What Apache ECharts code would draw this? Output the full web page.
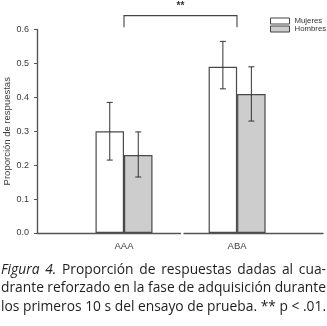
<!DOCTYPE html>
<html>
<head>
<meta charset="utf-8">
<script src="https://cdn.jsdelivr.net/npm/echarts@6/dist/echarts.min.js"></script>
<style>
  html, body { margin: 0; padding: 0; background: #fff; }
  #chart { width: 327px; height: 326px; }
</style>
</head>
<body>
<div id="chart"></div>
<script>
// data
const categories = ['AAA', 'ABA'];
const mujeres = [0.30, 0.49];
const hombres = [0.23, 0.41];
const mujeresErr = [[0.215, 0.385], [0.425, 0.565]];
const hombresErr = [[0.165, 0.298], [0.33, 0.49]];
const yTicks = [0, 0.1, 0.2, 0.3, 0.4, 0.5, 0.6];
const bracket = { from: 0, to: 1, low: 0.607, high: 0.641, label: '**', labelAt: 0.668 };
const captionItalic = 'Figura 4.';
const captionLines = [
  'Figura 4. Proporción de respuestas dadas al cua-',
  'drante reforzado en la fase de adquisición durante',
  'los primeros 10 s del ensayo de prueba. ** p < .01.'
];

const BAR_W = 28.5;
const axisColor = '#555';
const labelFont = { fontFamily: 'Liberation Sans', fontSize: 9, color: '#3a3a3a' };
const capFont = '"Open Sans"';
const CAP_W = 325;

const chart = echarts.init(document.getElementById('chart'));

function errorSeries(name, err, xIdx, side) {
  return {
    name: name,
    type: 'custom',
    xAxisIndex: xIdx, yAxisIndex: xIdx,
    z: 5,
    data: [[xIdx, err[xIdx][0], err[xIdx][1]]],
    renderItem: function (params, api) {
      const lo = api.coord([api.value(0), api.value(1)]);
      const hi = api.coord([api.value(0), api.value(2)]);
      const x = lo[0] + side * BAR_W / 2;
      const cap = 3;
      const st = { stroke: '#333', lineWidth: 1 };
      return {
        type: 'group',
        children: [
          { type: 'line', shape: { x1: x, y1: lo[1], x2: x, y2: hi[1] }, style: st },
          { type: 'line', shape: { x1: x - cap, y1: lo[1], x2: x + cap, y2: lo[1] }, style: st },
          { type: 'line', shape: { x1: x - cap, y1: hi[1], x2: x + cap, y2: hi[1] }, style: st }
        ]
      };
    }
  };
}

function barSeries(name, vals, xIdx, color) {
  return {
    name: name,
    type: 'bar',
    xAxisIndex: xIdx, yAxisIndex: xIdx,
    barWidth: BAR_W,
    barGap: '0%',
    data: [[xIdx, vals[xIdx]]],
    itemStyle: { color: color, borderColor: '#4a4a4a', borderWidth: 1.2 },
    emphasis: { disabled: true }
  };
}

function xAxis(idx, min, max) {
  return {
    type: 'value', gridIndex: idx, min: min, max: max,
    splitLine: { show: false },
    axisTick: { show: false },
    axisLine: { show: true, onZero: false, lineStyle: { color: axisColor, width: 1.4 } },
    axisLabel: Object.assign({
      customValues: [idx], margin: 8,
      formatter: function (v) { return categories[Math.round(v)]; }
    }, labelFont, { fontSize: 9.5 })
  };
}

const series = [];
[0, 1].forEach(function (i) {
  series.push(barSeries('Mujeres', mujeres, i, '#ffffff'));
  series.push(barSeries('Hombres', hombres, i, '#cdcdcd'));
  series.push(errorSeries('errM' + i, mujeresErr, i, -1));
  series.push(errorSeries('errH' + i, hombresErr, i, 1));
});

// significance bracket, drawn in grid 0 coordinates (same px/unit as grid 1)
series.push({
  type: 'custom',
  xAxisIndex: 0, yAxisIndex: 0,
  clip: false,
  silent: true,
  data: [[bracket.from, bracket.to, bracket.low, bracket.high]],
  renderItem: function (params, api) {
    const a = api.coord([api.value(0), api.value(2)]);
    const b = api.coord([api.value(1), api.value(3)]);
    const t = api.coord([(api.value(0) + api.value(1)) / 2, bracket.labelAt]);
    return {
      type: 'group',
      children: [
        { type: 'polyline', shape: { points: [[a[0], a[1]], [a[0], b[1]], [b[0], b[1]], [b[0], a[1]]] },
          style: { stroke: '#444', lineWidth: 1.1, fill: null } },
        { type: 'text', x: t[0], y: t[1],
          style: { text: bracket.label, fontFamily: 'Liberation Sans', fontSize: 10, fontWeight: 'bold',
                   fill: '#333', align: 'center', verticalAlign: 'middle' } }
      ]
    };
  }
});

// caption: size the font so the last line fills the width, justify the others
const measure = document.createElement('canvas').getContext('2d');
measure.font = 'normal 10px ' + capFont;
const capSize = 10 * CAP_W / measure.measureText(captionLines[2]).width;
const capGraphics = [];
let italicLeft = captionItalic.split(' ').length;
captionLines.forEach(function (line, li) {
  const words = line.split(' ');
  const styles = words.map(function () {
    if (italicLeft > 0) { italicLeft--; return 'italic'; }
    return 'normal';
  });
  const widths = words.map(function (w, k) {
    measure.font = styles[k] + ' ' + capSize + 'px ' + capFont;
    return measure.measureText(w).width;
  });
  const total = widths.reduce(function (s, w) { return s + w; }, 0);
  const gap = (CAP_W - total) / (words.length - 1);
  let x = 1;
  words.forEach(function (w, k) {
    capGraphics.push({
      type: 'text', x: x, y: 270 + li * 18.5,
      style: { text: w, fontFamily: 'Open Sans', fontSize: capSize, fontStyle: styles[k],
               fill: '#1e1e1e', verticalAlign: 'middle', align: 'left' }
    });
    x += widths[k] + gap;
  });
});

chart.setOption({
  animation: false,
  backgroundColor: '#fff',
  grid: [
    { left: 37, top: 29.5, width: 143.5, bottom: 93 },
    { left: 184, top: 29.5, width: 139, bottom: 93 }
  ],
  xAxis: [xAxis(0, -0.77, 0.5), xAxis(1, 0.53, 1.76)],
  yAxis: [
    {
      type: 'value', gridIndex: 0, min: yTicks[0], max: yTicks[yTicks.length - 1], interval: 0.1,
      name: 'Proporción de respuestas', nameLocation: 'middle', nameGap: 25,
      nameTextStyle: { fontSize: 9.5, fontFamily: 'Liberation Sans', color: '#3a3a3a' },
      splitLine: { show: false },
      axisLine: { show: true, onZero: false, lineStyle: { color: axisColor, width: 1.4 } },
      axisTick: { show: true, inside: false, length: 3, lineStyle: { color: axisColor } },
      axisLabel: Object.assign({ margin: 8, formatter: function (v) { return v.toFixed(1); } }, labelFont)
    },
    { type: 'value', gridIndex: 1, min: yTicks[0], max: yTicks[yTicks.length - 1], show: false,
      axisLine: { onZero: false } }
  ],
  legend: {
    left: 265, top: 12, orient: 'vertical',
    itemWidth: 19, itemHeight: 6, itemGap: 0,
    icon: 'rect',
    selectedMode: false,
    textStyle: { fontFamily: 'Liberation Sans', fontSize: 7.8, color: '#333' },
    data: [
      { name: 'Mujeres', itemStyle: { color: '#fff', borderColor: '#444', borderWidth: 1 } },
      { name: 'Hombres', itemStyle: { color: '#cdcdcd', borderColor: '#444', borderWidth: 1 } }
    ]
  },
  graphic: capGraphics,
  series: series
});
</script>
</body>
</html>
